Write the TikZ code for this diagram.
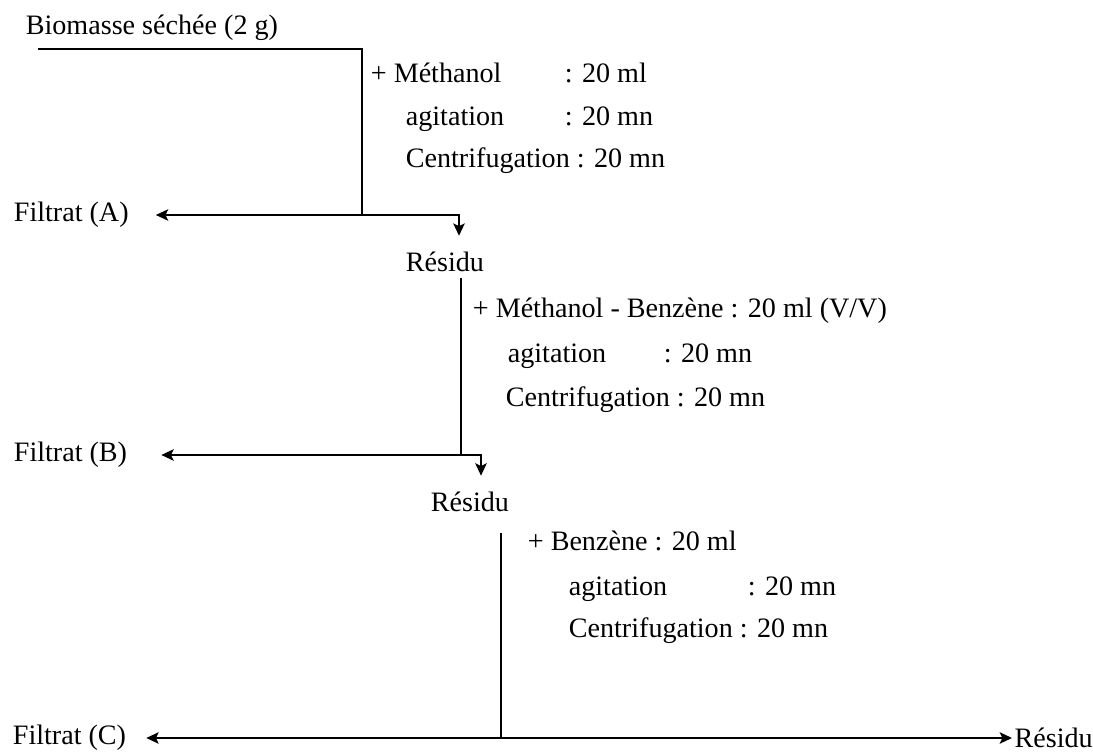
\documentclass[tikz,border=0pt]{standalone}
\usepackage{fontspec}
\setmainfont{Liberation Serif}
\usetikzlibrary{arrows.meta}

\tikzset{
    txt/.style={inner sep=0pt, anchor=base west, font=\fontsize{16}{19}\selectfont},
    res/.style={inner sep=0pt, font=\fontsize{16}{19}\selectfont},
    filtrat/.style={inner sep=0pt, anchor=west, font=\fontsize{16}{19}\selectfont},
    arr/.style={-{Stealth[length=7pt, width=6.5pt, inset=1.5pt]}},
}

\begin{document}
\begin{tikzpicture}[x=0.02cm, y=-0.02cm, line width=1pt]
    \useasboundingbox (0,0) rectangle (1093,753);

    % Starting material
    \node[txt] (bio) at (25,35) {Biomasse séchée (2 g)};
    \coordinate (t0) at (38,49);
    \coordinate (k1) at (362,49);

    % First extraction
    \node[txt] (add1) at (370,83) {+ Méthanol};
    \node[txt] (add1v) at (564,83) {: 20 ml};
    \node[txt] (agi1) at (405,126) {agitation};
    \node[txt] (agi1v) at (564,126) {: 20 mn};
    \node[txt] (cen1) at (405,168) {Centrifugation : 20 mn};
    \node[filtrat] (fA) at (13,215) {Filtrat (A)};
    \node[res, anchor=base] (res1) at (445,272) {Résidu};
    \coordinate (j1) at (362,215);
    \coordinate (d1) at (459,215);
    \draw (t0) -- (k1) -- (j1);
    \draw[arr, shorten >=15pt] (j1) -- (fA);
    \draw[arr, shorten >=9pt] (j1) -- (d1) -- (d1 |- res1.north);

    % Second extraction
    \node[txt] (add2) at (472,318) {+ Méthanol - Benzène : 20 ml (V/V)};
    \node[txt] (agi2) at (507,363) {agitation};
    \node[txt] (agi2v) at (663,363) {: 20 mn};
    \node[txt] (cen2) at (505,407) {Centrifugation : 20 mn};
    \node[filtrat] (fB) at (13,455) {Filtrat (B)};
    \node[res, anchor=base] (res2) at (470,511) {Résidu};
    \coordinate (j2) at (461,455);
    \coordinate (d2) at (481,455);
    \draw[shorten <=3pt] (res1.south -| j2) -- (j2);
    \draw[arr, shorten >=19pt] (j2) -- (fB);
    \draw[arr, shorten >=8.5pt] (j2) -- (d2) -- (d2 |- res2.north);

    % Third extraction
    \node[txt] (add3) at (527,550) {+ Benzène : 20 ml};
    \node[txt] (agi3) at (568,595) {agitation};
    \node[txt] (agi3v) at (747,595) {: 20 mn};
    \node[txt] (cen3) at (568,637) {Centrifugation : 20 mn};
    \node[filtrat] (fC) at (12,738) {Filtrat (C)};
    \node[filtrat, inner xsep=1pt] (res3) at (1012,738) {Résidu};
    \coordinate (j3) at (501,738);
    \draw[shorten <=12pt] (res2.south -| j3) -- (j3);
    \draw[arr, shorten >=11pt] (j3) -- (fC);
    \draw[arr] (j3) -- (res3);
\end{tikzpicture}
\end{document}
